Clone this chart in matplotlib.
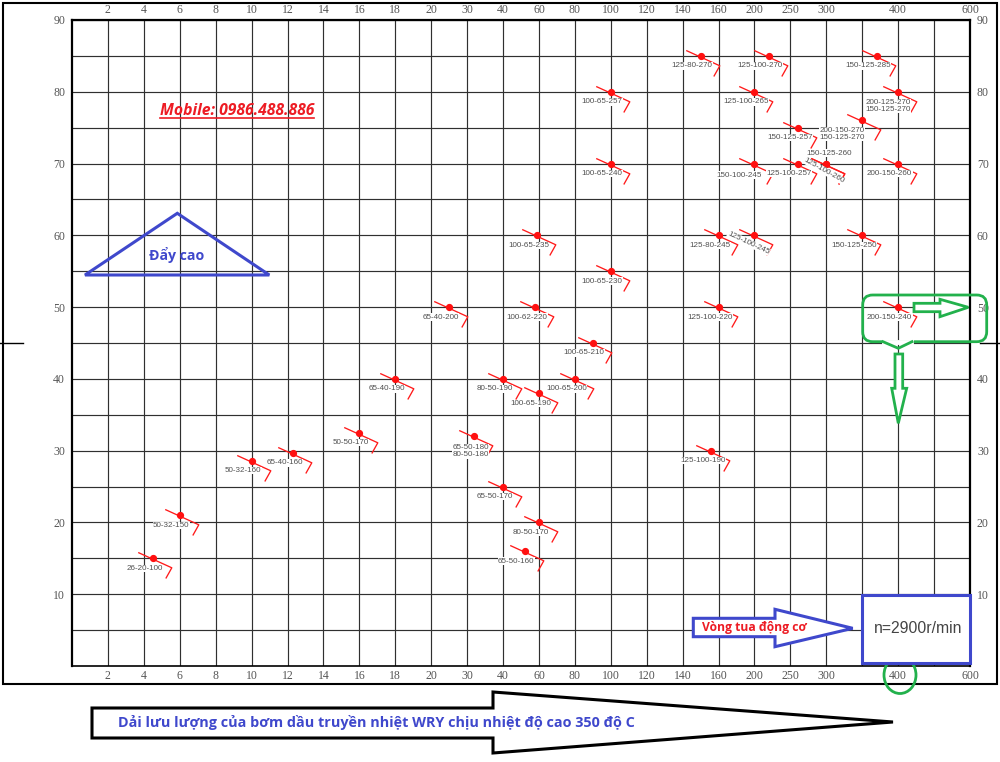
import numpy as np
import matplotlib
matplotlib.use('Agg')
import matplotlib.pyplot as plt
from matplotlib.path import Path
from matplotlib.patches import Polygon, Rectangle, Ellipse, FancyBboxPatch
from matplotlib.lines import Line2D
from matplotlib.transforms import Affine2D, IdentityTransform

# flow axis of the selection chart: equal steps between these values
flow_steps = [0, 2, 4, 6, 8, 10, 12, 14, 16, 18, 20, 30, 40, 60, 80, 100,
              120, 140, 160, 200, 250, 300, 350, 400, 500, 600]
flow_labels = ['', '2', '4', '6', '8', '10', '12', '14', '16', '18', '20', '30',
               '40', '60', '80', '100', '120', '140', '160', '200', '250', '300',
               '', '400', '', '600']
head_ticks = [10, 20, 30, 40, 50, 60, 70, 80, 90]

# pump models: flow (m3/h) and head (m)
models = ['26-20-100', '50-32-150', '50-32-160', '65-40-160', '50-50-170',
          '65-40-190', '65-40-200', '65-50-180\n80-50-180', '80-50-190',
          '100-65-190', '100-65-200', '100-65-210', '100-62-220', '100-65-230',
          '100-65-235', '100-65-240', '100-65-257', '65-50-170', '80-50-170',
          '65-50-160', '125-100-190', '125-100-220', '125-80-245',
          '125-100-245', '150-125-250', '200-150-240', '150-100-245',
          '125-100-257', '125-100-260', '150-125-260', '200-150-260',
          '150-125-257', '200-150-270\n150-125-270', '125-100-265',
          '200-125-270\n150-125-270', '125-80-270', '125-100-270', '150-125-285']
flows = [4.5, 6, 10, 12.3, 16,
         18, 25, 32, 40,
         60, 80, 90, 58, 100,
         59, 100, 100, 40, 60,
         52, 156, 160, 160,
         200, 350, 400, 200,
         260, 300, 300, 400,
         261, 350, 200,
         400, 150, 220, 370]
heads = [15, 21, 28.6, 29.7, 32.5,
         40, 50, 32, 40,
         38, 40, 45, 50, 55,
         60, 70, 80, 25, 20,
         16, 30, 50, 60,
         60, 60, 50, 70,
         70, 70, 70, 70,
         75, 76, 80,
         80, 85, 85, 85]

# label placement (pixels right / down of the point), default below-left
label_offset = {
    '150-100-245': (-15, 11.5),
    '200-150-270\n150-125-270': (-20, 13.5),
    '200-125-270\n150-125-270': (-10, 14),
    '65-50-180\n80-50-180': (-3.5, 15),
    '150-125-260': (2.5, -10.5),
    '125-100-260': (-2.5, 7),
    '125-100-245': (-6, 7.5),
}
label_rotation = {'125-100-260': -29, '125-100-245': -25}

W, H = 1000, 762
plt.rcParams['font.family'] = ['Liberation Serif', 'DejaVu Serif']
fig = plt.figure(figsize=(W / 100, H / 100), dpi=100)
ax = fig.add_axes([72 / W, 1 - 666 / H, 898 / W, 646 / H])

pos = np.arange(len(flow_steps))


def fwd(x):
    return np.interp(x, flow_steps, pos)


def inv(x):
    return np.interp(x, pos, flow_steps)


ax.set_xscale('function', functions=(fwd, inv))
ax.set_xlim(0, 600)
ax.set_ylim(0, 90)
ax.set_xticks(flow_steps[1:])
ax.set_xticklabels(flow_labels[1:])
ax.xaxis.set_minor_locator(matplotlib.ticker.NullLocator())
ax.set_yticks(head_ticks)
ax.set_yticks(np.arange(5, 90, 10), minor=True)
ax.grid(True, which='both', color='#303030', lw=0.85)
ax.tick_params(axis='x', length=0, top=True, labeltop=True, labelbottom=True,
               pad=3, labelsize=8.5, labelcolor='#555555')
ax.tick_params(axis='y', which='both', length=0, left=True, right=True,
               labelright=True, pad=5, labelsize=8.5, labelcolor='#555555')
for side in ['left', 'top', 'right']:
    ax.spines[side].set_linewidth(1.6)
ax.spines['bottom'].set_linewidth(1.2)

# bent red curve marker drawn at each duty point
bend = Path([(-15.3, 6), (18.3, -9.3), (12.3, -20)],
            [Path.MOVETO, Path.LINETO, Path.LINETO])
ax.plot(flows, heads, ls='none', marker=bend, ms=28.8, mfc='none',
        mec='#ff1a1a', mew=0.95, zorder=3)
ax.plot(flows, heads, ls='none', marker='o', ms=4.2, color='#ff1010', zorder=4)

for m, f, h in zip(models, flows, heads):
    dx, dy = label_offset.get(m, (-8.5, 10))
    ax.annotate(m, (f, h), xytext=(dx * 0.72, -dy * 0.72),
                textcoords='offset points', ha='center', va='center',
                fontsize=5.8, color='#505050', family='Liberation Sans',
                rotation=label_rotation.get(m, 0), linespacing=1.0,
                bbox=dict(fc='white', ec='none', pad=0.2), zorder=5)

# decorations, given in picture pixels (y down)
pix = Affine2D().scale(1 / W, -1 / H).translate(0, 1) + fig.transFigure
blue = '#3F48CC'
green = '#22B14C'
red = '#ED1C24'

fig.add_artist(Rectangle((3, 3), 994, 681, fill=False, lw=1.5, ec='black', transform=pix))
fig.add_artist(Line2D([0, 23], [342.7, 342.7], lw=1, color='black', transform=pix))
fig.add_artist(Line2D([980, 1000], [342.7, 342.7], lw=1, color='black', transform=pix))

fig.add_artist(Polygon([(85, 275), (177.3, 213.3), (269.3, 275)], closed=True,
                       fill=False, ec=blue, lw=2.2, transform=pix, zorder=6))
t_day = fig.text(177, 255, 'Đẩy cao', transform=pix, ha='center', va='center',
                 color=blue, fontsize=11, fontweight='bold',
                 family=['Open Sans', 'DejaVu Sans'], zorder=7)

t_mob = fig.text(237, 111, 'Mobile: 0986.488.886', transform=pix, ha='center',
                 va='center', color=red, fontsize=11, fontweight='bold',
                 style='italic', family=['Open Sans', 'DejaVu Sans'], zorder=7)

# green callout round the 200-150-240 point
fig.add_artist(FancyBboxPatch((862.7, 295), 124, 46.7, boxstyle='round,pad=0,rounding_size=10',
                              fill=False, ec=green, lw=2, transform=pix, zorder=6))
fig.add_artist(Line2D([884, 911], [341.7, 341.7], lw=3.5, color='white', transform=pix, zorder=6.5))
fig.add_artist(Line2D([883, 898.3, 912], [341.7, 348.3, 341.7], lw=2, color=green,
                      transform=pix, zorder=7))
fig.add_artist(Polygon([(914, 303.3), (940, 303.3), (940, 299.3), (968.3, 307.3),
                        (940, 316.7), (940, 311.7), (914, 311.7)], closed=True,
                       fc='white', ec=green, lw=2, transform=pix, zorder=6))
fig.add_artist(Polygon([(895, 354), (902.7, 354), (902.7, 388.3), (906.7, 388.3),
                        (898.3, 423.3), (891.7, 388.3), (895, 388.3)], closed=True,
                       fc='white', ec=green, lw=2, transform=pix, zorder=6))
fig.add_artist(Ellipse((900, 675), 32, 37, fill=False, ec=green, lw=2, transform=pix, zorder=6))

# speed box and arrow
fig.add_artist(Rectangle((862.3, 595), 107.7, 68.3, fc='white', ec=blue, lw=2.2,
                         transform=pix, zorder=6))
t_n = fig.text(918.3, 628.3, 'n=2900r/min', transform=pix, ha='center', va='center',
               color='#444444', fontsize=11, family='Liberation Sans', zorder=7)
fig.add_artist(Polygon([(693.3, 618.3), (775, 618.3), (775, 609.3), (852.7, 628.3),
                        (775, 646.7), (775, 636.7), (693.3, 636.7)], closed=True,
                       fc='white', ec=blue, lw=2.2, transform=pix, zorder=6))
t_v = fig.text(754, 628, 'Vòng tua động cơ', transform=pix, ha='center', va='center',
               color=red, fontsize=9, fontweight='bold',
               family=['Open Sans', 'DejaVu Sans'], zorder=7)

# flow range arrow under the chart
fig.add_artist(Polygon([(92, 708), (493, 708), (493, 692), (893, 722), (493, 753),
                        (493, 738), (92, 738)], closed=True,
                       fc='white', ec='black', lw=2.2, transform=pix, zorder=6))
t_b = fig.text(118, 722, 'Dải lưu lượng của bơm dầu truyền nhiệt WRY chịu nhiệt độ cao 350 độ C',
               transform=pix, ha='left', va='center', color=blue, fontsize=10,
               fontweight='bold', family=['Open Sans', 'DejaVu Sans'], zorder=7)

# size the annotation texts to the widths they have in the picture
fig.canvas.draw()
renderer = fig.canvas.get_renderer()
for t, width in [(t_day, 55), (t_mob, 155), (t_n, 88), (t_v, 105), (t_b, 518)]:
    w = t.get_window_extent(renderer).width
    t.set_fontsize(t.get_fontsize() * width / w)

bb = t_mob.get_window_extent(renderer)
fig.add_artist(Line2D([bb.x0, bb.x1], [bb.y0 + 1, bb.y0 + 1], lw=1.2, color=red,
                      transform=IdentityTransform(), zorder=7))

fig.savefig('out.png', dpi=100)
